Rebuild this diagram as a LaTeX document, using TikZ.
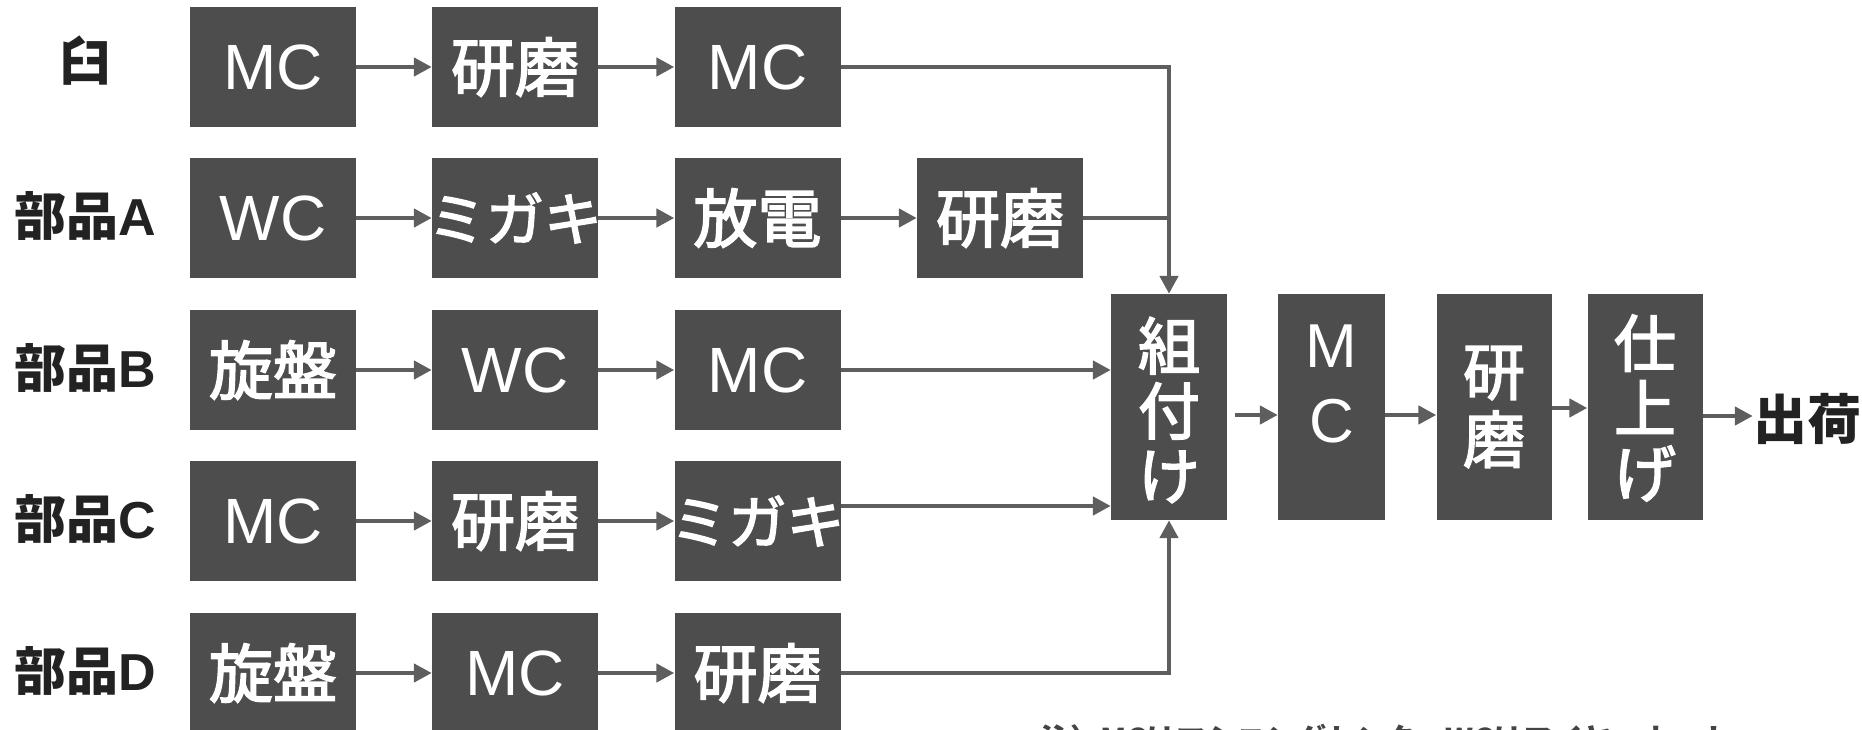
\documentclass[tikz,border=0pt]{standalone}
\usepackage{fontspec}
\setmainfont{Liberation Sans}
\newfontfamily\cjk{Noto Sans CJK JP}
\newfontfamily\cjkm[FakeBold=2.6]{Noto Sans CJK JP}
\usetikzlibrary{arrows.meta}
\definecolor{boxgray}{HTML}{4D4D4D}
\definecolor{arrgray}{HTML}{5E5E5E}
\definecolor{labelink}{HTML}{222222}
\definecolor{notegray}{HTML}{444444}
\begin{document}
\begin{tikzpicture}[x=1pt,y=-1pt,
 box/.style={fill=boxgray, minimum width=166pt, minimum height=120pt, inner sep=0pt, text=white, font=\fontsize{64}{64}\selectfont},
 vbox/.style={fill=boxgray, inner sep=0pt, minimum height=226pt},
 vtext/.style={text=white, align=center, inner sep=0pt, font=\cjkm\fontsize{62}{65}\selectfont},
 lbl/.style={text=labelink, font=\bfseries\fontsize{52}{52}\selectfont, inner sep=0pt},
 arr/.style={draw=arrgray, line width=4.6pt, -{Triangle[length=18pt,width=18pt]}},
 ln/.style={draw=arrgray, line width=4.6pt},
]
\useasboundingbox (0,0) rectangle (1862,730);
\clip (0,0) rectangle (1862,730);

% left labels
\node[lbl] (l0) at (85.5,61) {\cjk 臼};
\node[lbl] (l1) at (85.5,216) {{\cjk 部品}A};
\node[lbl] (l2) at (85.5,368) {{\cjk 部品}B};
\node[lbl] (l3) at (85.5,519) {{\cjk 部品}C};
\node[lbl] (l4) at (85.5,671) {{\cjk 部品}D};

% row 0
\node[box] (r0c1) at (273,67) {MC};
\node[box] (r0c2) at (515,67) {\cjkm 研磨};
\node[box] (r0c3) at (757.5,67) {MC};
% row 1
\node[box] (r1c1) at (273,218) {WC};
\node[box,font=\cjkm\fontsize{58}{58}\selectfont] (r1c2) at (515,218) {\makebox[0pt]{ミガキ}};
\node[box] (r1c3) at (757.5,218) {\cjkm 放電};
\node[box] (r1c4) at (1000,218) {\cjkm 研磨};
% row 2
\node[box] (r2c1) at (273,370) {\cjkm 旋盤};
\node[box] (r2c2) at (515,370) {WC};
\node[box] (r2c3) at (757.5,370) {MC};
% row 3
\node[box] (r3c1) at (273,521) {MC};
\node[box] (r3c2) at (515,521) {\cjkm 研磨};
\node[box,font=\cjkm\fontsize{58}{58}\selectfont] (r3c3) at (757.5,521) {\makebox[0pt]{ミガキ}};
% row 4
\node[box] (r4c1) at (273,673) {\cjkm 旋盤};
\node[box] (r4c2) at (515,673) {MC};
\node[box] (r4c3) at (757.5,673) {\cjkm 研磨};

% right column boxes
\node[vbox, minimum width=116pt] (asm) at (1169,407) {};
\node[vbox, minimum width=107pt] (mc2) at (1331.5,407) {};
\node[vbox, minimum width=115pt] (gr) at (1494,407) {};
\node[vbox, minimum width=115pt] (fin) at (1645,407) {};
\node[vtext] (asmt) at (1169,410) {組\\付\\け};
\node[vtext, font=\fontsize{62}{75}\selectfont] (mc2t) at (1331.5,384) {M\\C};
\node[vtext, font=\cjkm\fontsize{62}{68}\selectfont] (grt) at (1494,407) {研\\磨};
\node[vtext] (fint) at (1645,408) {仕\\上\\げ};
\node[lbl, font=\cjk\bfseries\fontsize{54}{54}\selectfont] (ship) at (1807,419) {出荷};

% arrows row 0
\draw[arr] (r0c1) -- (r0c2);
\draw[arr] (r0c2) -- (r0c3);
\draw[arr] (r0c3.east) -| (asm.north);
% row 1
\draw[arr] (r1c1) -- (r1c2);
\draw[arr] (r1c2) -- (r1c3);
\draw[arr] (r1c3) -- (r1c4);
\draw[ln] (r1c4.east) -- (r1c4.east -| asm.north);
% row 2
\draw[arr] (r2c1) -- (r2c2);
\draw[arr] (r2c2) -- (r2c3);
\draw[arr] (r2c3.east) -- (r2c3.east -| asm.west);
% row 3
\draw[arr] (r3c1) -- (r3c2);
\draw[arr] (r3c2) -- (r3c3);
\draw[arr] ([yshift=15pt]r3c3.east) -- ([yshift=15pt]r3c3.east -| asm.west);
% row 4
\draw[arr] (r4c1) -- (r4c2);
\draw[arr] (r4c2) -- (r4c3);
\draw[arr] (r4c3.east) -| (asm.south);
% right chain
\draw[arr] ([yshift=-8pt]asm.east) ++(8,0) -- ([yshift=-8pt]asm.east -| mc2.west);
\draw[arr] ([yshift=-8pt]mc2.east) -- ([yshift=-8pt]mc2.east -| gr.west);
\draw[arr] ([yshift=-1pt]gr.east) -- ([yshift=-1pt]gr.east -| fin.west);
\draw[arr] ([yshift=-9pt]fin.east) -- ([yshift=-9pt]fin.east -| ship.west);

% note (cut off at bottom edge, as in the reference)
\node[anchor=base west, text=notegray, inner sep=0pt, font=\cjk\bfseries\fontsize{30}{30}\selectfont] (note) at (1040,750) {注）MCはマシニングセンタ、WCはワイヤーカット};
\end{tikzpicture}
\end{document}
